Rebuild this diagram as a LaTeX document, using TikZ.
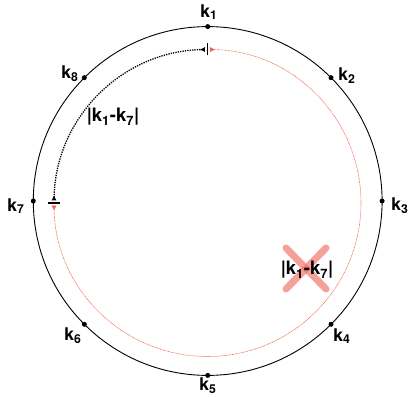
\documentclass[tikz,border=0pt]{standalone}
\usepackage{fontspec}
\setmainfont{TeX Gyre Heros}
\usetikzlibrary{arrows.meta,calc}
\definecolor{lred}{RGB}{245,95,80}
\definecolor{xred}{RGB}{240,110,100}
\tikzset{
  kdot/.style={circle,fill=black,inner sep=0pt,minimum size=5pt},
  klab/.style={inner sep=0pt,font=\fontsize{17.5}{19}\selectfont\bfseries},
  difflab/.style={inner sep=0pt,font=\fontsize{18.5}{20}\selectfont\bfseries},
  rtip/.tip={Latex[reversed,length=5pt,width=5pt]},
  blackarc/.style={line width=1.3pt,dash pattern=on 1.3pt off 1.1pt,{rtip}-{rtip}},
  redarc/.style={lred,line width=0.55pt,dash pattern=on 0.8pt off 0.6pt,{rtip}-{rtip}},
  barmark/.style={line width=1.3pt},
  crossline/.style={xred,line width=7pt,opacity=0.65,line cap=round},
}
\begin{document}
\begin{tikzpicture}[x=1pt,y=1pt]
\useasboundingbox (0,0) rectangle (411,396);
\coordinate (O) at (207.7,195);
\coordinate (I) at (207.5,193);
\draw[line width=0.9pt] (O) circle (174.4);
% points
\foreach \i/\a in {1/90,2/45,3/0,4/-45,5/-90,6/-135,7/180,8/135}{
  \node[kdot] (p\i) at ($(O)+(\a:174.4)$) {};
}
\node[klab] (l1) at (209,384) {k\textsubscript{1}};
\node[klab] (l2) at (347,320) {k\textsubscript{2}};
\node[klab] (l3) at (400,190) {k\textsubscript{3}};
\node[klab] (l4) at (342,60) {k\textsubscript{4}};
\node[klab] (l5) at (208,10) {k\textsubscript{5}};
\node[klab] (l6) at (73,60) {k\textsubscript{6}};
\node[klab] (l7) at (16,190) {k\textsubscript{7}};
\node[klab] (l8) at (70,322) {k\textsubscript{8}};
% arcs
\draw[blackarc] ($(I)+(179:153.5)$) arc (179:91:153.5);
\draw[redarc] ($(I)+(89:153.5)$) arc (89:-179:153.5);
% bars
\draw[barmark] ($(I)+(0,147.5)$) coordinate (b1a) -- ($(I)+(0,159.5)$) coordinate (b1b);
\draw[barmark] ($(I)+(-159.5,0)$) coordinate (b2a) -- ($(I)+(-147.5,0)$) coordinate (b2b);
% labels
\node[difflab] (d1) at (113,279) {|k\textsubscript{1}-k\textsubscript{7}|};
\coordinate (c1) at (286,148);
\coordinate (c2) at (326,107);
\coordinate (c3) at (286,107);
\coordinate (c4) at (326,148);
\draw[crossline] (c1) -- (c2);
\draw[crossline] (c3) -- (c4);
\node[difflab] (d2) at (307,126) {|k\textsubscript{1}-k\textsubscript{7}|};
\end{tikzpicture}
\end{document}
